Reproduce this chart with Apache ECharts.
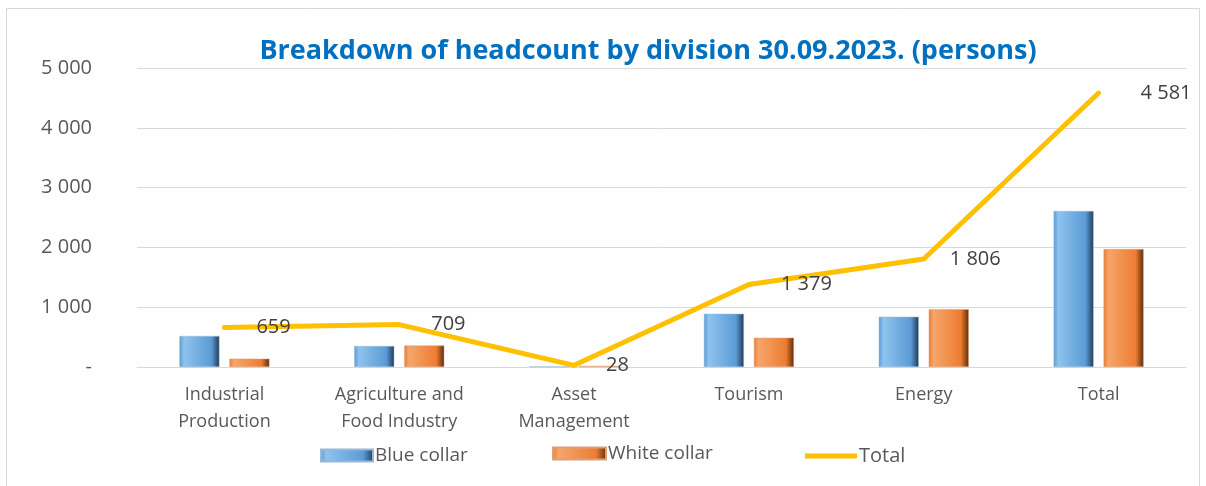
<!DOCTYPE html>
<html>
<head>
<meta charset="utf-8">
<script src="https://cdn.jsdelivr.net/npm/echarts@6/dist/echarts.min.js"></script>
<style>
	html, body { margin: 0; padding: 0; background: #fff; }
	#chart { width: 1206px; height: 486px; }
</style>
</head>
<body>
<div id="chart"></div>
<script>
// divisions
var categories = ['Industrial\nProduction', 'Agriculture and\nFood Industry', 'Asset\nManagement', 'Tourism', 'Energy', 'Total'];
// headcount per division
var blueCollar = [519, 350, 10, 890, 840, 2609];
var whiteCollar = [140, 359, 18, 489, 966, 1972];
var totalLine = [659, 709, 28, 1379, 1806, 4581];
// y axis
var yTicks = [0, 1000, 2000, 3000, 4000, 5000];

var fontFamily = '"Open Sans", "Noto Sans", sans-serif';

function spaced(v) {
	return String(v).replace(/\B(?=(\d{3})+(?!\d))/g, ' ');
}

function bevel(light, main, dark) {
	return {
		type: 'linear', x: 0, y: 0, x2: 1, y2: 0,
		colorStops: [
			{ offset: 0, color: main },
			{ offset: 0.12, color: light },
			{ offset: 0.8, color: main },
			{ offset: 1, color: dark }
		]
	};
}

var legendText = { color: '#595959', fontSize: 19, padding: [0, 0, 0, -3] };

// last label sits a bit further from the line end
var lineData = totalLine.map(function (v, i) {
	if (i === totalLine.length - 1) {
		return { value: v, label: { distance: 42 } };
	}
	if (i === 4) {
		return { value: v, label: { distance: 26 } };
	}
	return v;
});

var myChart = echarts.init(document.getElementById('chart'));
var option = {
	animation: false,
	textStyle: { fontFamily: fontFamily },
	graphic: [{
		type: 'rect',
		shape: { x: 6.5, y: 8.5, width: 1193, height: 490 },
		style: { fill: 'none', stroke: '#d9d9d9', lineWidth: 1 },
		silent: true
	}],
	title: {
		text: 'Breakdown of headcount by division 30.09.2023. (persons)',
		left: 643,
		textAlign: 'center',
		top: 33,
		textStyle: {
			color: '#0070c0',
			fontSize: 27,
			fontWeight: 'bold',
			fontFamily: fontFamily
		}
	},
	legend: [{
		left: 315,
		top: 441,
		itemWidth: 52,
		itemHeight: 12,
		textStyle: legendText,
		data: [{ name: 'Blue collar', icon: 'rect' }]
	}, {
		left: 547,
		top: 439,
		itemWidth: 53,
		itemHeight: 12,
		textStyle: legendText,
		data: [{ name: 'White collar', icon: 'rect' }]
	}, {
		left: 800,
		top: 441,
		itemWidth: 52,
		itemHeight: 12,
		textStyle: { color: '#595959', fontSize: 20, padding: [0, 0, 0, -3] },
		data: [{ name: 'Total', icon: 'path://M0,0 L52,0 L52,5 L0,5 Z' }]
	}],
	grid: {
		left: 137,
		right: 20,
		top: 68,
		bottom: 119
	},
	xAxis: {
		type: 'category',
		data: categories,
		axisTick: { show: false },
		axisLine: { lineStyle: { color: '#d9d9d9', width: 1 } },
		axisLabel: {
			color: '#595959',
			fontSize: 18,
			lineHeight: 27,
			margin: 14,
			interval: 0
		}
	},
	yAxis: {
		type: 'value',
		min: yTicks[0],
		max: yTicks[yTicks.length - 1],
		interval: 1000,
		axisLine: { show: false },
		axisTick: { show: false },
		splitLine: { lineStyle: { color: '#d9d9d9', width: 1 } },
		axisLabel: {
			color: '#595959',
			fontSize: 20,
			margin: 45,
			formatter: function (v) {
				return v === 0 ? '-' : spaced(v);
			}
		}
	},
	series: [{
		name: 'Blue collar',
		type: 'bar',
		barWidth: 40,
		barGap: '25%',
		data: blueCollar,
		itemStyle: {
			color: bevel('#8ec3ee', '#5b9bd5', '#1f3a56'),
			borderColor: '#9ab7d3',
			borderWidth: 0.5
		}
	}, {
		name: 'White collar',
		type: 'bar',
		barWidth: 40,
		barGap: '25%',
		data: whiteCollar,
		itemStyle: {
			color: bevel('#f6a56b', '#ed7d31', '#5e2c0b'),
			borderColor: '#d9a07a',
			borderWidth: 0.5
		}
	}, {
		name: 'Total',
		type: 'line',
		data: lineData,
		z: 5,
		symbol: 'circle',
		symbolSize: 0,
		showSymbol: true,
		lineStyle: { color: '#ffc000', width: 5, cap: 'round', join: 'round' },
		itemStyle: { color: '#ffc000' },
		label: {
			show: true,
			position: 'right',
			distance: 32,
			color: '#404040',
			fontSize: 20,
			formatter: function (p) {
				return spaced(p.value);
			}
		},
		labelLayout: { hideOverlap: false }
	}]
};
myChart.setOption(option);
window.addEventListener('resize', function () {
	myChart.resize();
});
</script>
</body>
</html>
